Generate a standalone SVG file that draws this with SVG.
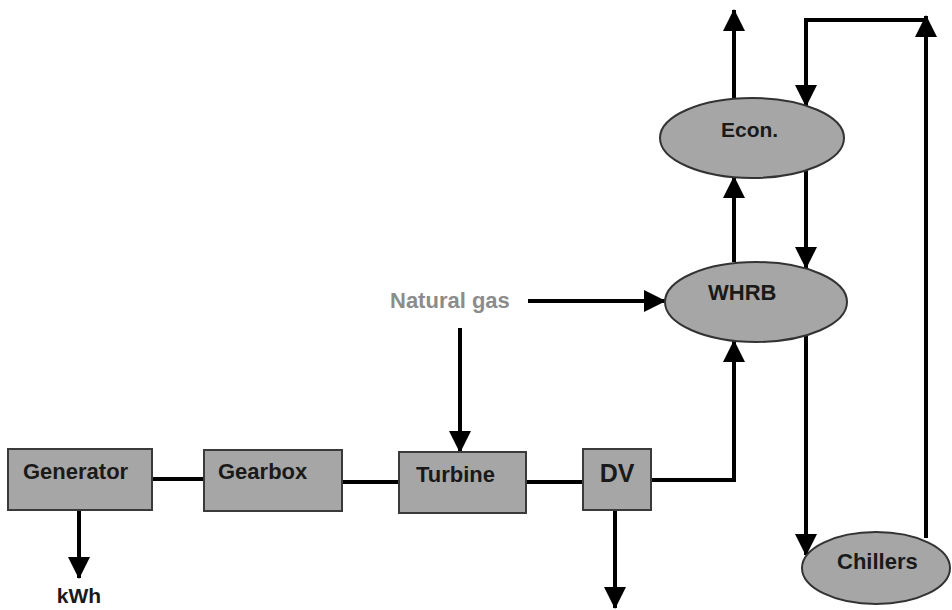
<svg xmlns="http://www.w3.org/2000/svg" width="952" height="610" viewBox="0 0 952 610">
<style>
.box{fill:#a6a6a6;stroke:#3a3a3a;stroke-width:2}
.ell{fill:#a6a6a6;stroke:#333;stroke-width:2}
.lbl{font-family:"Liberation Sans",Arial,sans-serif;font-weight:bold;font-size:22px;fill:#1a1a1a}
.ng{fill:#8c8c8c}
.c{fill:none;stroke:#000;stroke-width:4}
.a{marker-end:url(#ah)}
</style>
<defs>
<marker id="ah" markerUnits="userSpaceOnUse" markerWidth="22" markerHeight="22" refX="21" refY="11" orient="auto">
<path d="M0,0 L22,11 L0,22 z" fill="#000"/>
</marker>
</defs>
<rect width="952" height="610" fill="#fff"/>
<g id="connectors">
<line class="c" x1="152" y1="479" x2="204" y2="479"/>
<line class="c" x1="342" y1="482" x2="399" y2="482"/>
<line class="c" x1="526" y1="482" x2="583" y2="482"/>
<line class="c a" x1="79" y1="510" x2="79" y2="578"/>
<line class="c a" x1="615" y1="510" x2="615" y2="608"/>
<path class="c a" d="M651,480 H734 V341"/>
<line class="c a" x1="528" y1="301" x2="665" y2="301"/>
<line class="c a" x1="460" y1="328" x2="460" y2="452"/>
<line class="c a" x1="734" y1="262" x2="734" y2="177"/>
<line class="c a" x1="734" y1="99" x2="734" y2="10"/>
<line class="c a" x1="926" y1="538" x2="926" y2="16"/>
<path class="c a" d="M926,20 H806 V106"/>
<line class="c a" x1="806" y1="170" x2="806" y2="268"/>
<line class="c a" x1="806" y1="335" x2="806" y2="555"/>
</g>
<g id="generator">
<rect class="box" x="8" y="449" width="144" height="61"/>
<text class="lbl" x="23" y="479">Generator</text>
</g>
<g id="kwh">
<text class="lbl" x="79" y="603" text-anchor="middle" style="font-size:21px">kWh</text>
</g>
<g id="gearbox">
<rect class="box" x="204" y="450" width="138" height="61"/>
<text class="lbl" x="218" y="479">Gearbox</text>
</g>
<g id="turbine">
<rect class="box" x="399" y="452" width="127" height="61"/>
<text class="lbl" x="416" y="482">Turbine</text>
</g>
<g id="dv">
<rect class="box" x="583" y="449" width="68" height="61"/>
<text class="lbl" x="617" y="482" text-anchor="middle" style="font-size:25px">DV</text>
</g>
<g id="natural-gas">
<text class="lbl ng" x="390" y="308">Natural gas</text>
</g>
<g id="whrb">
<ellipse class="ell" cx="756" cy="302" rx="91" ry="40"/>
<text class="lbl" x="708" y="300">WHRB</text>
</g>
<g id="econ">
<ellipse class="ell" cx="752" cy="138" rx="92" ry="40"/>
<text class="lbl" x="721" y="137" style="font-size:21px">Econ.</text>
</g>
<g id="chillers">
<ellipse class="ell" cx="876" cy="568" rx="74" ry="36"/>
<text class="lbl" x="837" y="569">Chillers</text>
</g>
</svg>
